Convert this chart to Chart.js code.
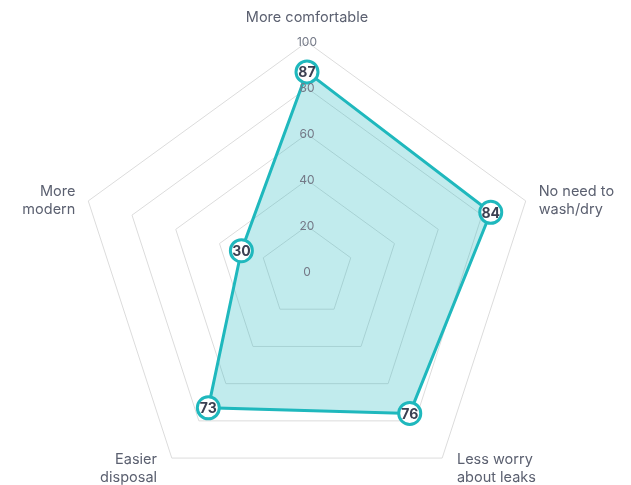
<!DOCTYPE html>
<html>
<head>
<meta charset="utf-8">
<script src="https://cdn.jsdelivr.net/npm/chart.js@4.4.1/dist/chart.umd.min.js"></script>
<style>
  html, body { margin: 0; padding: 0; background: #ffffff; }
  #frame { width: 631px; height: 485px; overflow: hidden; position: relative; }
  #wrap { width: 631px; height: 510px; position: relative; }
</style>
</head>
<body>
<div id="frame"><div id="wrap"><canvas id="c"></canvas></div></div>
<script>
const categories = [
  "More comfortable",
  ["No need to", "wash/dry"],
  ["Less worry", "about leaks"],
  ["Easier", "disposal"],
  ["More", "modern"]
];
const values = [87, 84, 76, 73, 30];
const tickValues = [0, 20, 40, 60, 80, 100];

const TEAL = "#1fb8bd";
const FONT = "Inter, 'Noto Sans', sans-serif";

// point labels, placed through the radial scale's own point positions
const axisLabels = {
  id: "axisLabels",
  afterDraw(chart) {
    const scale = chart.scales.r;
    const ctx = chart.ctx;
    ctx.save();
    ctx.font = "14.5px " + FONT;
    ctx.fillStyle = "#5b6070";
    ctx.textBaseline = "middle";
    const lh = 18;
    categories.forEach((lab, i) => {
      const lines = Array.isArray(lab) ? lab : [lab];
      const p = scale.getPointPosition(i, scale.drawingArea + 10);
      const dx = p.x - scale.xCenter;
      const dy = p.y - scale.yCenter;
      const dist = Math.hypot(dx, dy);
      let x = p.x, cy;
      if (Math.abs(dx) < 1) {
        ctx.textAlign = "center";
        cy = p.y - 14;
      } else {
        ctx.textAlign = dx > 0 ? "left" : "right";
        x += Math.sign(dx) * 11 * Math.abs(dy / dist);
        cy = p.y + (dy < 0 ? 3 : 2);
      }
      const top = cy - (lines.length - 1) * lh / 2;
      lines.forEach((ln, k) => ctx.fillText(ln, x, top + k * lh));
    });
    ctx.restore();
  }
};

const valueLabels = {
  id: "valueLabels",
  afterDatasetsDraw(chart) {
    const ctx = chart.ctx;
    const meta = chart.getDatasetMeta(0);
    ctx.save();
    ctx.font = "bold 14px " + FONT;
    ctx.fillStyle = "#3b4052";
    ctx.textAlign = "center";
    ctx.textBaseline = "middle";
    meta.data.forEach((pt, i) => {
      ctx.fillText(String(values[i]), pt.x, pt.y + 1);
    });
    ctx.restore();
  }
};

new Chart(document.getElementById("c"), {
  type: "radar",
  data: {
    labels: categories,
    datasets: [{
      data: values,
      borderColor: TEAL,
      borderWidth: 3,
      backgroundColor: "rgba(31,184,189,0.28)",
      fill: true,
      pointRadius: 11,
      pointHoverRadius: 11,
      pointBackgroundColor: "#ffffff",
      pointBorderColor: TEAL,
      pointBorderWidth: 3
    }]
  },
  options: {
    responsive: true,
    maintainAspectRatio: false,
    animation: false,
    layout: { padding: { top: 34, bottom: 0, left: 0, right: 16 } },
    plugins: {
      legend: { display: false },
      tooltip: { enabled: false }
    },
    scales: {
      r: {
        min: -0.001,
        max: 100,
        afterBuildTicks(scale) {
          scale.ticks = tickValues.map(v => ({ value: v }));
        },
        ticks: {
          showLabelBackdrop: false,
          color: "#747987",
          font: { family: FONT, size: 12 },
          z: 1
        },
        grid: { color: "#dcdcdc", lineWidth: 1 },
        angleLines: { display: false },
        pointLabels: { display: false }
      }
    }
  },
  plugins: [valueLabels, axisLabels]
});
</script>
</body>
</html>
